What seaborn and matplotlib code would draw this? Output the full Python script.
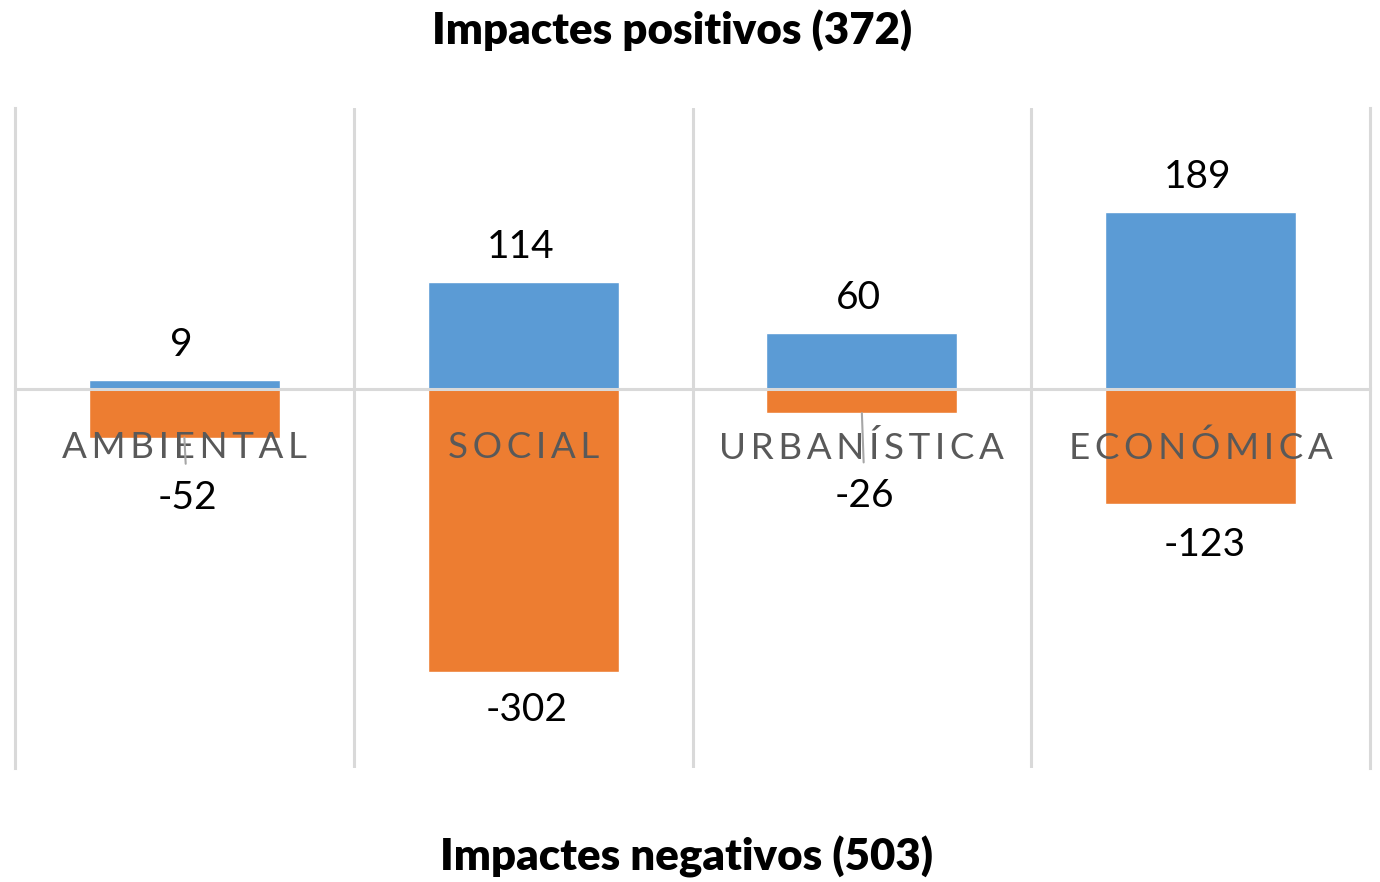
import pandas as pd
import seaborn as sns
import matplotlib.pyplot as plt

categories = ["AMBIENTAL", "SOCIAL", "URBANÍSTICA", "ECONÓMICA"]
positivos = [9, 114, 60, 189]
negativos = [-52, -302, -26, -123]
title_top = "Impactes positivos (372)"
title_bottom = "Impactes negativos (503)"

blue = "#5B9BD5"
orange = "#ED7D31"
grid_col = "#D9D9D9"

df = pd.DataFrame({
    "categoria": categories * 2,
    "valor": positivos + negativos,
    "tipo": ["pos"] * 4 + ["neg"] * 4,
})

sns.set_theme(style="white")
plt.rcParams['font.family'] = ['Lato', 'DejaVu Sans']

fig = plt.figure(figsize=(13.8, 8.82), dpi=100)
ax = fig.add_axes([15 / 1380, 1 - 768 / 882, 1355 / 1380, 660 / 882])

sns.barplot(data=df, x="categoria", y="valor", hue="tipo", dodge=False,
            palette={"pos": blue, "neg": orange}, width=0.564,
            legend=False, ax=ax, saturation=1, errorbar=None)

ax.set_xlim(-0.5, 3.5)
ax.set_ylim(-405, 300)
ax.set_xlabel("")
ax.set_ylabel("")
ax.set_yticks([])

# zero line as the x axis, category labels just below it (on top of the bars)
ax.spines['bottom'].set_position(('data', 0))
ax.spines['bottom'].set_color(grid_col)
ax.spines['bottom'].set_linewidth(2.2)
ax.spines['top'].set_visible(False)
for s in ['left', 'right']:
    ax.spines[s].set_color(grid_col)
    ax.spines[s].set_linewidth(2.2)
spaced = ["\u2009".join(c) for c in categories]
ax.set_xticks(range(4))
ax.set_xticklabels(spaced, fontsize=26.5, color="#595959")
ax.tick_params(axis='x', length=0, pad=30)

ax.set_xticks([0.5, 1.5, 2.5], minor=True)
ax.grid(which='minor', axis='x', color=grid_col, linewidth=2.2)
ax.grid(which='major', visible=False)
ax.set_axisbelow(False)

# data labels
for i, v in enumerate(positivos):
    ax.annotate(str(v), xy=(i, v), xytext=(-3, 35), textcoords='offset pixels',
                ha='center', va='center', fontsize=28, color='black')
neg_off = [60, 38, 83, 41]
for i, v in enumerate(negativos):
    if neg_off[i] > 50:
        ax.annotate(str(v), xy=(i, v), xytext=(3, -neg_off[i]), textcoords='offset pixels',
                    ha='center', va='center', fontsize=28, color='black',
                    arrowprops=dict(arrowstyle='-', color='#A6A6A6', lw=1.5,
                                    shrinkA=9, shrinkB=0))
    else:
        ax.annotate(str(v), xy=(i, v), xytext=(4, -neg_off[i]), textcoords='offset pixels',
                    ha='center', va='center', fontsize=28, color='black')

fig.text(672 / 1380, 1 - 30 / 882, title_top, ha='center', va='center',
         fontsize=31.5, fontweight='heavy', color='black')
fig.text(686 / 1380, 1 - 857 / 882, title_bottom, ha='center', va='center',
         fontsize=31.5, fontweight='heavy', color='black')

fig.savefig("out.png", dpi=100)
